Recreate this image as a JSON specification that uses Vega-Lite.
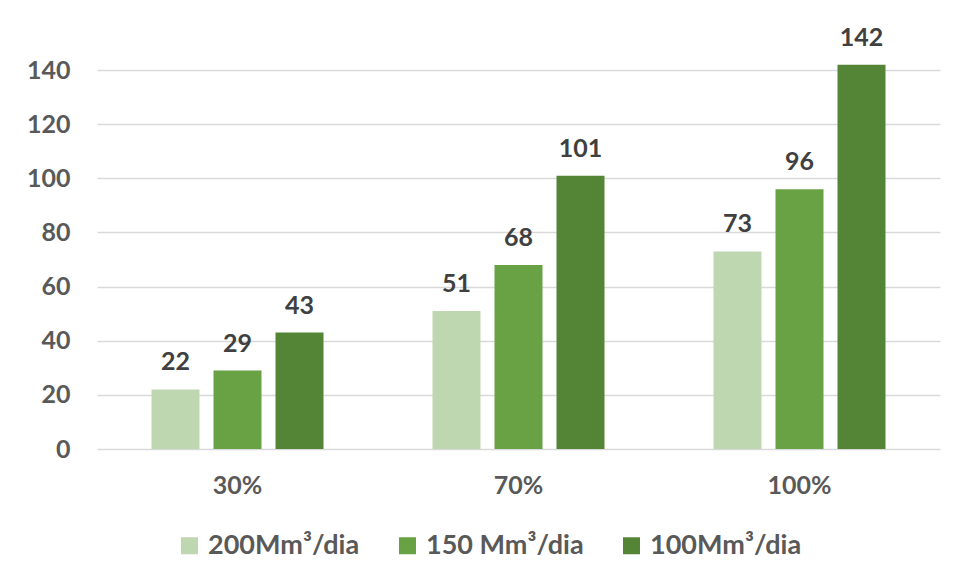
{
  "$schema": "https://vega.github.io/schema/vega-lite/v6.json",
  "width": 843,
  "height": 406,
  "autosize": {"type": "none"},
  "padding": {"left": 97, "top": 43, "right": 16, "bottom": 132},
  "background": "#ffffff",
  "config": {
    "font": "Lato",
    "view": {"stroke": null},
    "axis": {
      "labelFont": "Lato",
      "labelFontWeight": "bold",
      "labelFontSize": 25,
      "labelColor": "#595959",
      "ticks": false,
      "domain": false,
      "title": null
    }
  },
  "data": {
    "values": [
      {"nivel": "30%", "serie": "200Mm³/dia", "valor": 22},
      {"nivel": "30%", "serie": "150 Mm³/dia", "valor": 29},
      {"nivel": "30%", "serie": "100Mm³/dia", "valor": 43},
      {"nivel": "70%", "serie": "200Mm³/dia", "valor": 51},
      {"nivel": "70%", "serie": "150 Mm³/dia", "valor": 68},
      {"nivel": "70%", "serie": "100Mm³/dia", "valor": 101},
      {"nivel": "100%", "serie": "200Mm³/dia", "valor": 73},
      {"nivel": "100%", "serie": "150 Mm³/dia", "valor": 96},
      {"nivel": "100%", "serie": "100Mm³/dia", "valor": 142}
    ]
  },
  "encoding": {
    "x": {
      "field": "nivel",
      "type": "nominal",
      "sort": ["30%", "70%", "100%"],
      "scale": {"paddingInner": 0.338, "paddingOuter": 0.169},
      "axis": {"labelAngle": 0, "labelPadding": 24, "grid": false}
    },
    "xOffset": {
      "field": "serie",
      "type": "nominal",
      "sort": ["200Mm³/dia", "150 Mm³/dia", "100Mm³/dia"],
      "scale": {"paddingInner": 0.226, "paddingOuter": 0.113}
    },
    "y": {
      "field": "valor",
      "type": "quantitative",
      "scale": {"domain": [0, 150], "nice": false},
      "axis": {
        "values": [0, 20, 40, 60, 80, 100, 120, 140],
        "grid": true,
        "gridColor": "#d9d9d9",
        "gridWidth": 1.5,
        "labelPadding": 27
      }
    }
  },
  "layer": [
    {
      "mark": {"type": "bar", "clip": false},
      "encoding": {
        "color": {
          "field": "serie",
          "type": "nominal",
          "sort": ["200Mm³/dia", "150 Mm³/dia", "100Mm³/dia"],
          "scale": {
            "domain": ["200Mm³/dia", "150 Mm³/dia", "100Mm³/dia"],
            "range": ["#bfd7b1", "#69a244", "#548537"]
          },
          "legend": {
            "orient": "none",
            "direction": "horizontal",
            "legendX": 79,
            "legendY": 489,
            "title": null,
            "symbolType": "square",
            "symbolSize": 289,
            "symbolStrokeWidth": 0,
            "labelFont": "Lato",
            "labelFontWeight": "bold",
            "labelFontSize": 27,
            "labelColor": "#595959",
            "labelOffset": 5,
            "columnPadding": 34
          }
        }
      }
    },
    {
      "mark": {
        "type": "text",
        "baseline": "alphabetic",
        "dy": -19,
        "font": "Lato",
        "fontWeight": "bold",
        "fontSize": 25,
        "color": "#404040"
      },
      "encoding": {
        "text": {"field": "valor", "type": "quantitative"}
      }
    }
  ]
}
